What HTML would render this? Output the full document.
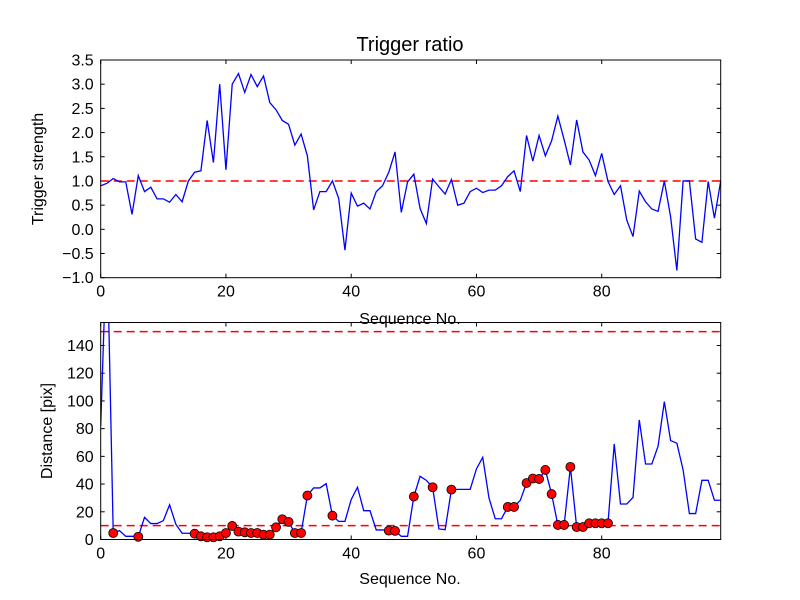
<!DOCTYPE html>
<html><head><meta charset="utf-8"><style>
html,body{margin:0;padding:0;background:#fff}
svg{display:block;font-family:"Liberation Sans","DejaVu Sans",sans-serif}
</style></head><body>
<svg id="chart" width="800" height="600" viewBox="0 0 800 600" xmlns="http://www.w3.org/2000/svg">
<rect width="800" height="600" fill="#fff"/>
<text x="410" y="51" font-size="20" text-anchor="middle">Trigger ratio</text>
<text x="410" y="324" font-size="16" text-anchor="middle">Sequence No.</text>
<text x="410" y="584" font-size="16" text-anchor="middle">Sequence No.</text>
<text transform="translate(43,169) rotate(-90)" font-size="16" text-anchor="middle">Trigger strength</text>
<text transform="translate(52,431) rotate(-90)" font-size="16" text-anchor="middle">Distance [pix]</text>
<g id="top"></g>
<g id="bot"></g>
</svg>
<script>
const strength = [0.9,0.95,1.05,0.98,0.98,0.31,1.11,0.78,0.87,0.63,0.63,0.56,0.72,0.57,1.0,1.18,1.21,2.25,1.38,3.0,1.23,3.0,3.22,2.83,3.2,2.95,3.17,2.62,2.47,2.25,2.17,1.74,1.97,1.52,0.4,0.78,0.78,1.0,0.64,-0.43,0.75,0.48,0.54,0.42,0.78,0.9,1.18,1.6,0.35,0.98,1.14,0.43,0.12,1.04,0.88,0.73,1.03,0.5,0.54,0.78,0.85,0.76,0.81,0.81,0.9,1.09,1.21,0.78,1.94,1.41,1.94,1.52,1.83,2.34,1.85,1.33,2.26,1.6,1.43,1.11,1.57,0.99,0.72,0.9,0.19,-0.15,0.79,0.57,0.42,0.37,1.0,0.26,-0.85,1.0,1.0,-0.2,-0.27,0.99,0.23,1.0];
const distance = [82,220,4.7,6.4,2.3,2.3,2,16,11.5,11.5,13.6,25,11,4.5,4.5,4.2,2.3,1.6,1.6,2.3,4.7,9.8,5.7,5.2,4.7,4.7,3.5,3.5,8.8,14.6,12.7,4.7,4.7,31.7,37.2,37.2,40.3,17.2,13.1,13.1,28.8,37.7,20.8,20.8,6.9,6.9,6.4,6.2,2.3,2.3,31,45.6,42.7,37.7,7.6,7.1,36,36.2,36.2,36.2,51,59.3,30,15,15,23.5,23.5,28.3,40.8,44,43.7,50.2,32.8,10.5,10.5,52.4,9,9,11.7,11.7,11.7,11.7,69,25.6,25.6,30.4,86.3,54.5,54.5,67.3,99.5,71.4,69.5,50.2,18.7,18.7,42.7,42.7,28.3,28.3];
const marked = [2,6,15,16,17,18,19,20,21,22,23,24,25,26,27,28,29,30,31,32,33,37,46,47,50,53,56,65,66,68,69,70,71,72,73,74,75,76,77,78,79,80,81];
const xTicks = [0,20,40,60,80];
const topYTicks = [-1.0,-0.5,0.0,0.5,1.0,1.5,2.0,2.5,3.0,3.5];
const botYTicks = [0,20,40,60,80,100,120,140];
const strengthThreshold = 1.0;
const distanceThresholds = [10,150];

const NS="http://www.w3.org/2000/svg";
function mk(tag,attrs,parent){const e=document.createElementNS(NS,tag);for(const k in attrs)e.setAttribute(k,attrs[k]);parent.appendChild(e);return e;}
const L=100.7,R=720.7;
const xs=v=>L+(v-0)/(99-0)*(R-L);

function axes(g,T,B,ymin,ymax,yticks,fmt,prefix,clipId){
  const ys=v=>B-(v-ymin)/(ymax-ymin)*(B-T);
  const defs=mk('defs',{},g);
  const cp=mk('clipPath',{id:clipId},defs);
  mk('rect',{x:L,y:T,width:R-L,height:B-T},cp);
  xTicks.forEach(t=>{
    const x=xs(t);
    const a=mk('line',{x1:x,x2:x,y1:B,y2:B-4,stroke:'#000','stroke-width':1},g);
    
    
    const b=mk('line',{x1:x,x2:x,y1:T,y2:T+4,stroke:'#000','stroke-width':1},g);
    
    
    const tx=mk('text',{x:x,y:B+19,'font-size':16,'text-anchor':'middle'},g);
    tx.textContent=t;
    
    
  });
  yticks.forEach(t=>{
    const y=ys(t);
    const a=mk('line',{x1:L,x2:L+4,y1:y,y2:y,stroke:'#000','stroke-width':1},g);
    
    
    const b=mk('line',{x1:R,x2:R-4,y1:y,y2:y,stroke:'#000','stroke-width':1},g);
    
    
    const tx=mk('text',{x:L-7,y:y+5.5,'font-size':16,'text-anchor':'end'},g);
    tx.textContent=fmt(t);
    
    
  });
  return ys;
}

// top
const gt=document.getElementById('top');
const T1=60,B1=277.7;
const ys1=axes(gt,T1,B1,-1,3.5,topYTicks,t=>(t<0?'\u2212'+Math.abs(t).toFixed(1):t.toFixed(1)),'top','clipTop');
const tl=mk('line',{x1:L,x2:R,y1:ys1(strengthThreshold),y2:ys1(strengthThreshold),stroke:'#ff0000','stroke-width':1.5,'stroke-dasharray':'8,5','clip-path':'url(#clipTop)'},gt);


const p1=mk('polyline',{points:strength.map((v,i)=>xs(i)+','+ys1(v)).join(' '),fill:'none',stroke:'#0000ff','stroke-width':1.3,'clip-path':'url(#clipTop)'},gt);


const f1=mk('rect',{x:L,y:T1,width:R-L,height:B1-T1,fill:'none',stroke:'#000','stroke-width':1},gt);



// bottom
const gb=document.getElementById('bot');
const T2=322.5,B2=539.5;
const ys2=axes(gb,T2,B2,0,156.6,botYTicks,t=>String(t),'bottom','clipBot');
distanceThresholds.forEach(v=>{
  const d=mk('line',{x1:L,x2:R,y1:ys2(v),y2:ys2(v),stroke:'#ff0000','stroke-width':1.5,'stroke-dasharray':'8,5','clip-path':'url(#clipBot)'},gb);
  
  
});
const p2=mk('polyline',{points:distance.map((v,i)=>xs(i)+','+ys2(v)).join(' '),fill:'none',stroke:'#0000ff','stroke-width':1.3,'clip-path':'url(#clipBot)'},gb);


marked.forEach(i=>{
  const c=mk('circle',{cx:xs(i),cy:ys2(distance[i]),r:4.5,fill:'#ff0000',stroke:'#000','stroke-width':0.8},gb);
  
  
});
const f2=mk('rect',{x:L,y:T2,width:R-L,height:B2-T2,fill:'none',stroke:'#000','stroke-width':1},gb);


</script>
</body></html>
